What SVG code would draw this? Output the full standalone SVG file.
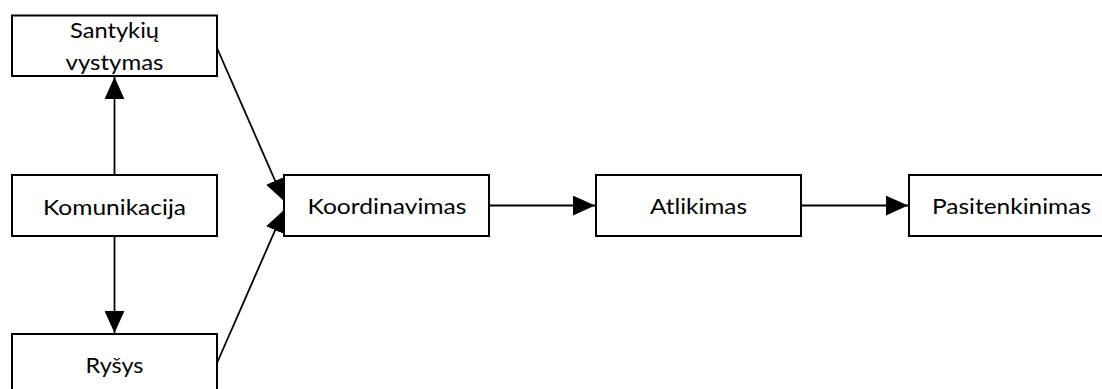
<svg xmlns="http://www.w3.org/2000/svg" width="1102" height="389" viewBox="0 0 1102 389">
  <style>
    .box { fill: #ffffff; stroke: #000000; stroke-width: 2; }
    .lbl { font-family: Lato, "Open Sans", "Liberation Sans", sans-serif; font-size: 22px; fill: #000000; text-anchor: middle; }
    .edge { fill: none; stroke: #000000; stroke-width: 1.8; marker-end: url(#head); }
  </style>
  <defs>
    <marker id="head" markerUnits="userSpaceOnUse" markerWidth="22" markerHeight="20" viewBox="0 0 20 18" refX="20" refY="9" orient="auto">
      <path d="M0,0 L20,9 L0,18 Z" fill="#000000"/>
    </marker>
  </defs>

  <g id="connectors">
    <line class="edge" x1="114.5" y1="175" x2="114.5" y2="77"/>
    <line class="edge" x1="114.5" y1="236" x2="114.5" y2="333"/>
    <line class="edge" x1="217" y1="48" x2="284" y2="201"/>
    <line class="edge" x1="217" y1="363" x2="284" y2="210"/>
    <line class="edge" x1="489" y1="205.5" x2="595" y2="205.5"/>
    <line class="edge" x1="801" y1="205.5" x2="908" y2="205.5"/>
  </g>

  <g id="santykiu-vystymas">
    <rect class="box" x="12" y="15.5" width="205" height="60.5"/>
    <text class="lbl" x="114.5" y="38" textLength="89" lengthAdjust="spacingAndGlyphs">Santykių</text>
    <text class="lbl" x="114.5" y="70" textLength="98" lengthAdjust="spacingAndGlyphs">vystymas</text>
  </g>

  <g id="komunikacija">
    <rect class="box" x="12" y="175" width="205" height="61"/>
    <text class="lbl" x="114.5" y="215" textLength="143" lengthAdjust="spacingAndGlyphs">Komunikacija</text>
  </g>

  <g id="rysys">
    <rect class="box" x="12" y="334" width="205" height="61"/>
    <text class="lbl" x="114.5" y="373" textLength="58" lengthAdjust="spacingAndGlyphs">Ryšys</text>
  </g>

  <g id="koordinavimas">
    <rect class="box" x="284" y="175" width="205" height="61"/>
    <text class="lbl" x="387" y="214" textLength="159" lengthAdjust="spacingAndGlyphs">Koordinavimas</text>
  </g>

  <g id="atlikimas">
    <rect class="box" x="596" y="175" width="205" height="61"/>
    <text class="lbl" x="698.5" y="214" textLength="97" lengthAdjust="spacingAndGlyphs">Atlikimas</text>
  </g>

  <g id="pasitenkinimas">
    <rect class="box" x="909" y="175" width="205" height="61"/>
    <text class="lbl" x="1011.5" y="214" textLength="159" lengthAdjust="spacingAndGlyphs">Pasitenkinimas</text>
  </g>
</svg>
